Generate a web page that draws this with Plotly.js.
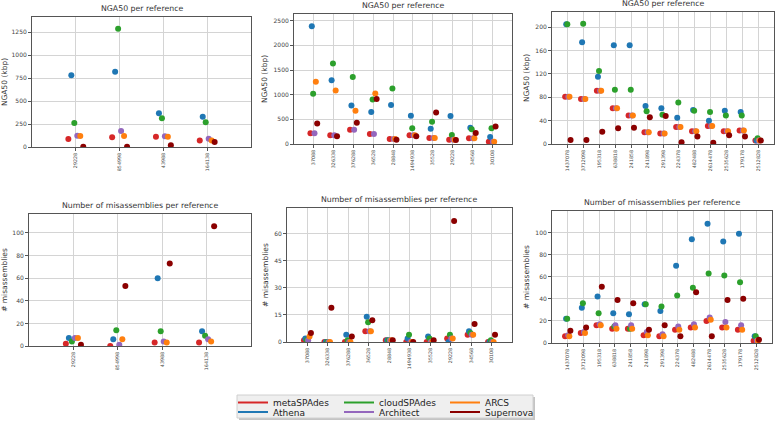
<!DOCTYPE html>
<html>
<head>
<meta charset="utf-8">
<script src="https://cdn.plot.ly/plotly-3.0.1.min.js"></script>
<style>html,body{margin:0;padding:0;background:#fff;}#chart{width:776px;height:431px;}</style>
</head>
<body>
<div id="chart"></div>
<script>
// ---------- data ----------
const assemblers = ['metaSPAdes', 'Athena', 'cloudSPAdes', 'Architect', 'ARCS', 'Supernova'];
const colors = ['#d62728', '#1f77b4', '#2ca02c', '#9467bd', '#ff7f0e', '#8b0000'];

const refsLeft = ['29228', '854998', '43988', '164138'];
const refsMid = ['37088', '326338', '376288', '36528', '28848', '1494938', '35528', '29228', '34568', '30108'];
const refsRight = ['1437078', '3712098', '195318', '638818', '241858', '241898', '291398', '224378', '482488', '2614478', '2535628', '179178', '2512828'];

// NGA50 (kbp), rows in assembler order
const ngaLeft = [
  [87, 105, 112, 72],
  [779, 819, 366, 330],
  [261, 1286, 312, 268],
  [123, 174, 116, 91],
  [120, 120, 112, 72],
  [2, 3, 18, 54]
];
const ngaMid = [
  [216, 175, 290, 202, 101, 175, 121, 88, 115, 47],
  [2386, 1294, 782, 647, 789, 573, 310, 566, 330, 142],
  [1018, 1631, 1361, 903, 1126, 317, 452, 182, 297, 317],
  [216, 175, 290, 202, 101, 175, 121, 88, 115, 47],
  [1260, 1085, 674, 1024, 101, 175, 121, 88, 115, 47],
  [418, 155, 431, 910, 88, 155, 640, 81, 222, 357]
];
const ngaRight = [
  [81, 77, 91, 61, 49, 20, 18, 29, 22, 31, 22, 23, 6],
  [205, 174, 115, 169, 169, 65, 61, 45, 58, 40, 57, 55, 6],
  [205, 206, 125, 93, 93, 56, 50, 71, 57, 55, 49, 49, 10],
  [81, 77, 91, 61, 49, 20, 18, 29, 22, 31, 22, 23, 6],
  [81, 77, 91, 61, 49, 20, 18, 29, 22, 31, 22, 23, 6],
  [7, 7, 21, 27, 28, 46, 48, 3, 13, 2, 15, 13, 6]
];

// Number of misassemblies
const misLeft = [
  [2, 0, 3, 3],
  [7, 6, 60, 13],
  [4, 14, 13, 9],
  [7, 1, 4, 6],
  [7, 6, 3, 4],
  [1, 53, 73, 106]
];
const misMid = [
  [1, 0, 0, 6, 1, 0, 0, 2, 4, 0],
  [2, 0, 4, 14, 1, 2, 3, 0, 6, 0],
  [1, 0, 1, 11, 1, 4, 2, 4, 5, 1],
  [1, 0, 0, 6, 1, 0, 0, 2, 4, 0],
  [3, 0, 0, 6, 1, 0, 0, 2, 4, 0],
  [5, 19, 3, 12, 1, 0, 1, 67, 10, 4]
];
const misRight = [
  [6, 9, 16, 13, 13, 7, 6, 12, 14, 20, 14, 12, 2],
  [22, 32, 42, 27, 26, 35, 29, 70, 94, 108, 92, 99, 6],
  [22, 36, 27, 15, 13, 35, 33, 43, 50, 63, 61, 55, 6],
  [7, 10, 17, 16, 16, 10, 8, 15, 17, 23, 19, 16, 2],
  [6, 9, 16, 13, 13, 7, 6, 12, 14, 21, 14, 12, 2],
  [11, 14, 51, 39, 36, 12, 16, 6, 46, 6, 39, 40, 3]
];

// ---------- layout helpers ----------
const W = 776, H = 431;
const px = v => v / W;
const py = v => (H - v) / H;
const FONT = 'DejaVu Sans, sans-serif';
const jitter = [-0.17, -0.102, -0.034, 0.034, 0.102, 0.17];

const panels = [
  {refs: refsLeft,  vals: ngaLeft,  x: [32, 251],  y: [17, 147],  yr: [0, 1413], dt: 250, ytitle: 'NGA50 (kbp)', title: 'NGA50 per reference'},
  {refs: refsMid,   vals: ngaMid,   x: [294, 512], y: [14, 144],  yr: [0, 2636], dt: 500, ytitle: 'NGA50 (kbp)', title: 'NGA50 per reference'},
  {refs: refsRight, vals: ngaRight, x: [552, 774], y: [12, 144],  yr: [0, 226],  dt: 40,  ytitle: 'NGA50 (kbp)', title: 'NGA50 per reference'},
  {refs: refsLeft,  vals: misLeft,  x: [29, 251],  y: [214, 346], yr: [0, 116.8], dt: 20, ytitle: '# misassemblies', title: 'Number of misassemblies per reference'},
  {refs: refsMid,   vals: misMid,   x: [287, 512], y: [208, 342], yr: [0, 74.2], dt: 15,  ytitle: '# misassemblies', title: 'Number of misassemblies per reference'},
  {refs: refsRight, vals: misRight, x: [552, 772], y: [211, 343], yr: [0, 119.5], dt: 20, ytitle: '# misassemblies', title: 'Number of misassemblies per reference'}
];

const traces = [];
const layout = {
  width: W, height: H,
  margin: {l: 0, r: 0, t: 0, b: 0},
  paper_bgcolor: '#ffffff', plot_bgcolor: '#ffffff',
  font: {family: FONT, color: '#333'},
  showlegend: true,
  annotations: [],
  shapes: []
};

panels.forEach((p, k) => {
  const n = k + 1;
  const xa = 'x' + (n === 1 ? '' : n), ya = 'y' + (n === 1 ? '' : n);
  const xk = 'xaxis' + (n === 1 ? '' : n), yk = 'yaxis' + (n === 1 ? '' : n);
  const idx = p.refs.map((_, i) => i);
  assemblers.forEach((a, j) => {
    traces.push({
      type: 'scatter', mode: 'markers',
      x: idx.map(i => i + jitter[j]), y: p.vals[j],
      xaxis: xa, yaxis: ya, name: a, showlegend: false,
      marker: {color: colors[j], size: 6}
    });
  });
  layout[xk] = {
    domain: [px(p.x[0]), px(p.x[1])], anchor: ya,
    range: [-1, p.refs.length], tickmode: 'array', tickvals: idx, ticktext: p.refs,
    tickangle: -90, tickfont: {size: 4.8, family: FONT, color: '#444'},
    showgrid: true, gridcolor: '#d4d4d4', gridwidth: 1, zeroline: false,
    showline: true, linecolor: '#555', linewidth: 1, mirror: true,
    ticks: 'outside', ticklen: 3, tickcolor: '#555', fixedrange: true
  };
  layout[yk] = {
    domain: [py(p.y[1]), py(p.y[0])], anchor: xa,
    range: p.yr, dtick: p.dt, tick0: 0,
    tickfont: {size: 6, family: FONT, color: '#444'},
    showgrid: true, gridcolor: '#d4d4d4', gridwidth: 1, zeroline: false,
    showline: true, linecolor: '#555', linewidth: 1, mirror: true,
    ticks: 'outside', ticklen: 3, tickcolor: '#555',
    title: {text: p.ytitle, font: {size: 7.5, family: FONT, color: '#333'}, standoff: 4},
    fixedrange: true
  };
  layout.annotations.push({
    xref: 'paper', yref: 'paper', x: px((p.x[0] + p.x[1]) / 2), y: py(p.y[0] - 2),
    xanchor: 'center', yanchor: 'bottom', showarrow: false,
    text: p.title, font: {size: 7.8, family: FONT, color: '#333'}
  });
});

// legend entries (line samples), arranged in two rows
const legendRows = [[0, 2, 4], [1, 3, 5]];
legendRows.forEach((row, r) => {
  row.forEach(j => {
    traces.push({
      type: 'scatter', mode: 'lines', x: [null], y: [null],
      name: assemblers[j], legend: r === 0 ? 'legend' : 'legend2',
      line: {color: colors[j], width: 2}, showlegend: true, hoverinfo: 'skip'
    });
  });
});
const legCommon = {
  orientation: 'h', xanchor: 'left', yanchor: 'middle',
  bgcolor: 'rgba(0,0,0,0)', borderwidth: 0,
  font: {size: 9, family: FONT, color: '#222'},
  entrywidth: 61, entrywidthmode: 'pixels', tracegroupgap: 0, itemwidth: 30
};
layout.legend = Object.assign({}, legCommon, {x: px(233), y: py(402.5)});
layout.legend2 = Object.assign({}, legCommon, {x: px(233), y: py(412)});
layout.shapes.push({
  type: 'rect', xref: 'paper', yref: 'paper', layer: 'above',
  x0: px(239), x1: px(535), y0: py(420), y1: py(397),
  fillcolor: '#c4c4c4', line: {width: 0}
});
layout.shapes.push({
  type: 'rect', xref: 'paper', yref: 'paper', layer: 'above',
  x0: px(237), x1: px(533), y0: py(418), y1: py(395),
  fillcolor: '#efefef', line: {color: '#d0d0d0', width: 1}
});

Plotly.newPlot('chart', traces, layout, {displayModeBar: false, staticPlot: true});
</script>
</body>
</html>
